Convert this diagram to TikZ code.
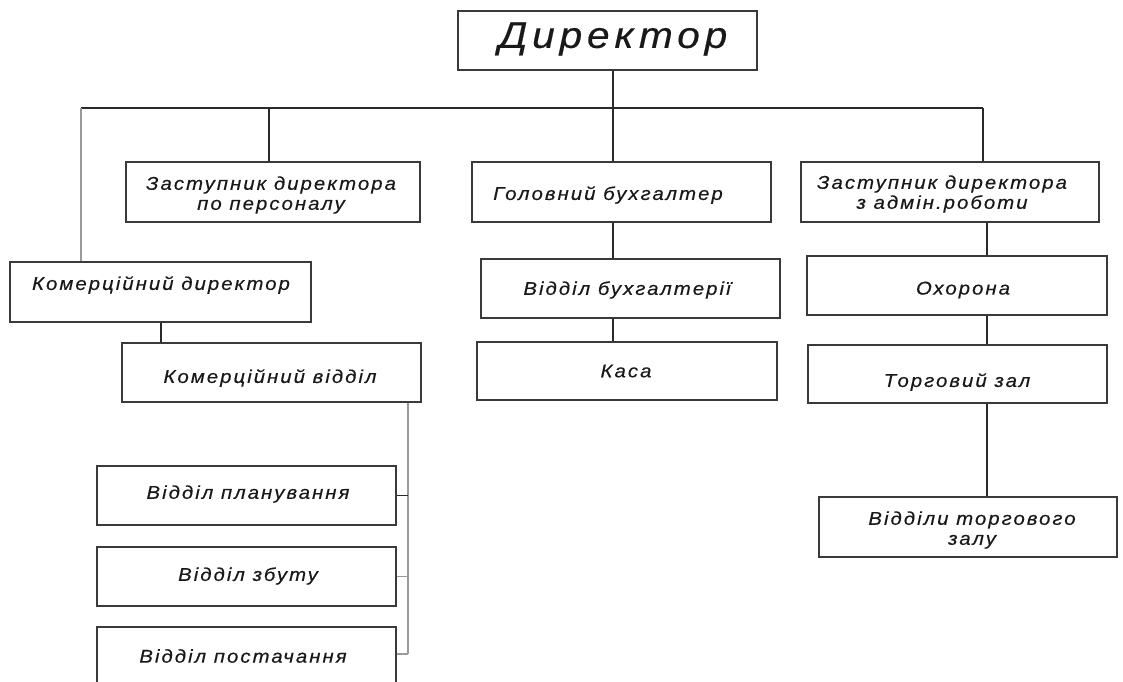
\documentclass[tikz,border=0pt]{standalone}
\usepackage{fontspec}
\setmainfont{Liberation Sans}[LetterSpace=11,FakeStretch=1.1,FakeBold=0.4]
\newfontfamily\dirfont{Liberation Sans}[LetterSpace=13,FakeStretch=1.1,FakeBold=0.4]
\definecolor{ln}{HTML}{2A2A2A}
\definecolor{bx}{HTML}{3A3A3A}
\definecolor{lg}{HTML}{9A9A9A}
\begin{document}
\begin{tikzpicture}[x=1pt,y=-1pt,
  box/.style={draw=bx,line width=1.4pt,rectangle,inner sep=0pt},
  txt/.style={font=\fontsize{18.5}{20}\selectfont\itshape,inner sep=0pt,align=center,text=black!90},
  con/.style={draw=ln,line width=1.4pt},
  gcon/.style={draw=lg,line width=1.4pt}]
\useasboundingbox (0,0) rectangle (1123,681);
\clip (0,0) rectangle (1123,681);
\newcommand{\bx}[5]{\node[box,minimum width=#4-#2,minimum height=#5-#3] (#1) at ({(#2+#4)/2},{(#3+#5)/2}) {};}
% boxes
\bx{dir}{458}{11}{757}{70}
\node[txt,font=\dirfont\fontsize{37}{40}\selectfont\itshape] (dirt) at (613,39) {Директор};
\bx{zp}{126}{162}{420}{222}
\node[txt] (zpt) at (271,195) {Заступник директора\\по персоналу};
\bx{kd}{10}{262}{311}{322}
\node[txt] (kdt) at (161,285) {Комерційний директор};
\bx{kv}{122}{343}{421}{402}
\node[txt] (kvt) at (270,378) {Комерційний відділ};
\bx{vp}{97}{466}{396}{525}
\node[txt] (vpt) at (248,494) {Відділ планування};
\bx{vz}{97}{547}{396}{606}
\node[txt] (vzt) at (248,576) {Відділ збуту};
\bx{vpo}{97}{627}{396}{687}
\node[txt] (vpot) at (243,656) {Відділ постачання};
\bx{gb}{472}{162}{771}{222}
\node[txt] (gbt) at (608,195) {Головний бухгалтер};
\bx{vb}{481}{259}{780}{318}
\node[txt] (vbt) at (627,290) {Відділ бухгалтерії};
\bx{ka}{477}{342}{777}{400}
\node[txt] (kat) at (626,371) {Каса};
\bx{za}{801}{162}{1099}{222}
\node[txt] (zat) at (942,194) {Заступник директора\\з адмін.роботи};
\bx{oh}{807}{256}{1107}{315}
\node[txt] (oht) at (963,290) {Охорона};
\bx{tz}{808}{345}{1107}{403}
\node[txt] (tzt) at (957,382) {Торговий зал};
\bx{vt}{819}{497}{1117}{557}
\node[txt] (vtt) at (972,530) {Відділи торгового\\залу};
% bus
\coordinate (busL) at (81,108);
\coordinate (busR) at (983,108);
\coordinate (bus) at (613,108);
\draw[con] (busL) -- (busR);
\draw[con] (dir.south -| bus) -- (bus);
\draw[gcon] (busL) -- (kd.north -| busL);
\draw[con] (269,108) coordinate (b1) -- (zp.north -| b1);
\draw[con] (bus) -- (gb.north -| bus);
\draw[con] (busR) -- (za.north -| busR);
% branches
\coordinate (c1) at (613,0);
\draw[con] (gb.south -| c1) -- (vb.north -| c1);
\draw[con] (vb.south -| c1) -- (ka.north -| c1);
\coordinate (c2) at (987,0);
\draw[con] (za.south -| c2) -- (oh.north -| c2);
\draw[con] (oh.south -| c2) -- (tz.north -| c2);
\draw[con] (tz.south -| c2) -- (vt.north -| c2);
\coordinate (c3) at (161,0);
\draw[con] (kd.south -| c3) -- (kv.north -| c3);
\coordinate (c4) at (408,0);
\coordinate (s3) at (0,654);
\draw[gcon] (kv.south -| c4) -- (s3 -| c4);
\draw[con] (vp.east) -- (vp.east -| c4);
\draw[gcon] (vz.east) -- (vz.east -| c4);
\draw[gcon] (vpo.east |- s3) -- (s3 -| c4);
\end{tikzpicture}
\end{document}
